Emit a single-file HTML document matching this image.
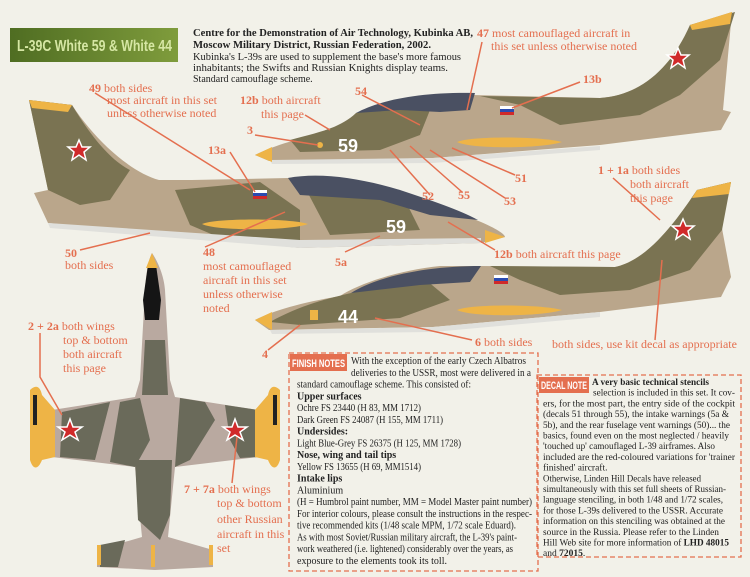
<!DOCTYPE html>
<html><head><meta charset="utf-8"><style>
body{margin:0;background:#f3f1ea}
svg{display:block}
.l{font-family:"Liberation Serif",serif;fill:#e46f4f;font-size:12px}
.lb{font-weight:bold}
.t{font-family:"Liberation Serif",serif;fill:#222;font-size:10px}
.d{font-family:"Liberation Serif",serif;fill:#222;font-size:9.5px}
.tb{font-weight:bold}
</style></head><body>
<svg width="750" height="577" viewBox="0 0 750 577" xmlns="http://www.w3.org/2000/svg">
<rect width="750" height="577" fill="#f2f1e9"/>
<defs>
<linearGradient id="g" x1="0" x2="1"><stop offset="0" stop-color="#4f6d22"/><stop offset="1" stop-color="#7f9c3c"/></linearGradient>
</defs>
<rect x="10" y="28" width="168" height="34" fill="url(#g)"/>
<text x="17" y="51" font-family="Liberation Sans,sans-serif" font-weight="bold" font-size="16" fill="#d6e7a4" textLength="155" lengthAdjust="spacingAndGlyphs">L-39C White 59 &amp; White 44</text>
<text x="193" y="36" class="t tb" textLength="280" lengthAdjust="spacingAndGlyphs">Centre for the Demonstration of Air Technology, Kubinka AB,</text>
<text x="193" y="48" class="t tb" textLength="238" lengthAdjust="spacingAndGlyphs">Moscow Military District, Russian Federation, 2002.</text>
<text x="193" y="60" class="t" textLength="268" lengthAdjust="spacingAndGlyphs">Kubinka's L-39s are used to supplement the base's more famous</text>
<text x="193" y="71" class="t" textLength="255" lengthAdjust="spacingAndGlyphs">inhabitants; the Swifts and Russian Knights display teams.</text>
<text x="193" y="82" class="t">Standard camouflage scheme.</text>

<!-- Aircraft 1 -->
<g>
<path d="M255,155 C275,145 300,138 330,132 C350,118 380,104 420,96 L473,95 L600,98 C640,95 670,70 690,25 L732,12 L723,110 L731,112 L721,130 L600,145 L433,158 L269,161 Z" fill="#baa68b"/>
<path d="M290,140 C320,132 340,128 356,113 L400,100 L430,110 L420,135 L380,150 L300,152 Z" fill="#7a7352"/>
<path d="M480,96 L600,98 C640,95 670,70 690,25 L735,12 L720,60 L680,95 L640,115 L560,125 L520,105 Z" fill="#7a7352"/>
<path d="M356,113 C380,100 420,92 475,93 L470,110 L440,112 L400,110 Z" fill="#4a5062"/>
<path d="M270,160 L433,158 L600,146 L600,150 L433,163 L272,164 Z" fill="#e0e0dc"/>
<path d="M457,142 C470,136 540,136 562,142 C540,149 470,149 457,142 Z" fill="#eeb446"/>
<path d="M255,155 L272,147 L272,162 Z" fill="#eeb446"/>
<path d="M690,25 L732,12 L730,24 L692,30 Z" fill="#eeb446"/>
<text x="338" y="152" font-family="Liberation Sans,sans-serif" font-weight="bold" font-size="18" fill="#fff">59</text>
<polygon points="678,48 681,55 689,55 683,60 685,68 678,63 671,68 673,60 667,55 675,55" fill="#d02a2a" stroke="#fff" stroke-width="1.5"/>
<rect x="500" y="106" width="14" height="3" fill="#fff"/><rect x="500" y="109" width="14" height="3" fill="#2a4ab0"/><rect x="500" y="112" width="14" height="3" fill="#d02a2a"/>
<circle cx="320" cy="145" r="3" fill="#eeb446"/>
</g>

<!-- Aircraft 2 -->
<g>
<path d="M29,100 L72,105 C95,140 130,172 159,180 L192,180 L288,178 C300,176 320,176 340,178 C380,185 440,205 481,222 C495,228 505,234 505,237 L481,243 L300,248 L48,223 L34,193 L48,190 Z" fill="#baa68b"/>
<path d="M29,100 L72,105 C90,135 110,160 130,170 L110,200 L80,205 L48,190 Z" fill="#7a7352"/>
<path d="M175,190 L260,182 L300,210 L300,240 L230,242 L190,225 Z" fill="#7a7352"/>
<path d="M300,178 L400,190 L420,230 L330,235 Z" fill="#7a7352"/>
<path d="M288,178 C320,172 360,178 400,190 C430,200 460,210 478,220 L430,215 L380,200 L300,195 Z" fill="#4a5062"/>
<path d="M48,223 L300,240 L481,238 L481,243 L300,248 L50,228 Z" fill="#e0e0dc"/>
<path d="M202,224 C215,218 290,218 308,224 C290,231 215,231 202,224 Z" fill="#eeb446"/>
<path d="M485,230 L505,237 L485,243 Z" fill="#eeb446"/>
<path d="M29,100 L72,105 L68,112 L32,108 Z" fill="#eeb446"/>
<text x="386" y="233" font-family="Liberation Sans,sans-serif" font-weight="bold" font-size="18" fill="#fff">59</text>
<polygon points="79,140 82,147 90,147 84,152 86,160 79,155 72,160 74,152 68,147 76,147" fill="#d02a2a" stroke="#fff" stroke-width="1.5"/>
<rect x="253" y="190" width="14" height="3" fill="#fff"/><rect x="253" y="193" width="14" height="3" fill="#2a4ab0"/><rect x="253" y="196" width="14" height="3" fill="#d02a2a"/>
</g>

<!-- Aircraft 3 -->
<g>
<path d="M255,320 C275,310 300,303 340,296 C360,283 400,270 440,266 L481,266 L615,267 C650,260 680,215 697,190 L731,182 L721,223 L731,277 L721,297 L600,312 L433,327 L269,330 Z" fill="#baa68b"/>
<path d="M270,322 C300,305 330,298 351,293 L420,275 L450,300 L400,318 L300,325 Z" fill="#7a7352"/>
<path d="M490,266 L615,267 C650,260 680,215 697,190 L731,182 L722,230 L690,270 L630,290 L560,295 L520,280 Z" fill="#7a7352"/>
<path d="M351,293 C380,275 430,266 481,266 L470,282 L420,285 Z" fill="#4a5062"/>
<path d="M270,330 L433,327 L600,312 L600,317 L433,332 L272,334 Z" fill="#e0e0dc"/>
<path d="M457,310 C470,304 540,304 562,310 C540,317 470,317 457,310 Z" fill="#eeb446"/>
<path d="M255,320 L272,312 L272,330 Z" fill="#eeb446"/>
<path d="M697,190 L731,182 L729,194 L692,198 Z" fill="#eeb446"/>
<rect x="310" y="310" width="8" height="10" fill="#eeb446"/>
<text x="338" y="323" font-family="Liberation Sans,sans-serif" font-weight="bold" font-size="18" fill="#fff">44</text>
<polygon points="683,219 686,226 694,226 688,231 690,239 683,234 676,239 678,231 672,226 680,226" fill="#d02a2a" stroke="#fff" stroke-width="1.5"/>
<rect x="494" y="275" width="14" height="3" fill="#fff"/><rect x="494" y="278" width="14" height="3" fill="#2a4ab0"/><rect x="494" y="281" width="14" height="3" fill="#d02a2a"/>
</g>

<!-- Top view -->
<g>
<path d="M152,253 C157,260 164,275 165,290 L170,380 L175,397 L258,410 L277,410 L277,457 L258,457 L175,467 L168,537 L213,550 L213,567 L155,570 L97,567 L97,550 L142,537 L135,467 L52,457 L33,457 L33,410 L52,410 L135,397 L140,380 L145,290 C146,275 148,260 152,253 Z" fill="#b9a9a0"/>
<path d="M145,340 L165,340 L168,395 L142,395 Z" fill="#6a6a5a"/>
<path d="M62,412 L110,402 L95,460 L60,457 Z" fill="#6a6a5a"/>
<path d="M120,402 L140,398 L150,440 L135,467 L110,462 Z" fill="#6a6a5a"/>
<path d="M180,398 L205,402 L215,420 L190,460 L175,467 Z" fill="#6a6a5a"/>
<path d="M225,405 L258,410 L258,457 L240,458 L230,440 Z" fill="#6a6a5a"/>
<path d="M135,460 L172,460 L170,515 L160,540 L138,520 Z" fill="#6a6a5a"/>
<path d="M100,545 L125,540 L118,567 L100,567 Z" fill="#6a6a5a"/>
<path d="M148,265 C150,258 154,258 156,265 L161,300 L159,320 L145,320 L143,300 Z" fill="#151515"/>
<path d="M152,253 L146,268 L158,268 Z" fill="#eeb446"/>
<path d="M30,390 C35,385 40,385 42,395 L55,410 L55,457 L42,460 C38,470 33,470 30,460 Z" fill="#eeb446"/>
<path d="M280,390 C275,385 270,385 268,395 L255,410 L255,457 L268,460 C272,470 277,470 280,460 Z" fill="#eeb446"/>
<rect x="33" y="395" width="4" height="30" fill="#222"/><rect x="273" y="395" width="4" height="30" fill="#222"/>
<rect x="97" y="545" width="4" height="20" fill="#eeb446"/><rect x="209" y="545" width="4" height="20" fill="#eeb446"/><rect x="151" y="545" width="4" height="22" fill="#eeb446"/>
<polygon points="70,419 73,427 82,427 75,432 78,440 70,435 62,440 65,432 58,427 67,427" fill="#d02a2a" stroke="#fff" stroke-width="1.5"/>
<polygon points="235,419 238,427 247,427 240,432 243,440 235,435 227,440 230,432 223,427 232,427" fill="#d02a2a" stroke="#fff" stroke-width="1.5"/>
</g>

<g stroke="#e46f4f" stroke-width="1.5" fill="none">
<line x1="95" y1="93" x2="250" y2="190"/>
<line x1="305" y1="115" x2="330" y2="130"/>
<line x1="255" y1="135" x2="318" y2="145"/>
<line x1="362" y1="95" x2="420" y2="125"/>
<line x1="482" y1="42" x2="467" y2="110"/>
<line x1="580" y1="82" x2="512" y2="108"/>
<line x1="230" y1="152" x2="255" y2="192"/>
<line x1="430" y1="195" x2="390" y2="150"/>
<line x1="462" y1="192" x2="410" y2="146"/>
<line x1="505" y1="198" x2="430" y2="150"/>
<line x1="515" y1="175" x2="452" y2="148"/>
<line x1="613" y1="178" x2="660" y2="220"/>
<line x1="80" y1="250" x2="150" y2="233"/>
<line x1="205" y1="247" x2="285" y2="212"/>
<line x1="345" y1="252" x2="380" y2="236"/>
<line x1="495" y1="250" x2="448" y2="222"/>
<line x1="268" y1="350" x2="300" y2="325"/>
<line x1="472" y1="340" x2="375" y2="318"/>
<line x1="655" y1="340" x2="662" y2="260"/>
<polyline points="40,333 40,377 62,415"/>
<line x1="232" y1="483" x2="237" y2="437"/>
</g>

<text x="89" y="92" class="l"><tspan class="lb">49</tspan> both sides</text>
<text x="107" y="104" class="l">most aircraft in this set</text>
<text x="107" y="117" class="l">unless otherwise noted</text>
<text x="240" y="104" class="l"><tspan class="lb">12b</tspan> both aircraft</text>
<text x="261" y="118" class="l">this page</text>
<text x="247" y="134" class="l lb">3</text>
<text x="355" y="95" class="l lb">54</text>
<text x="208" y="154" class="l lb">13a</text>
<text x="477" y="37" class="l"><tspan class="lb">47</tspan> most camouflaged aircraft in</text>
<text x="491" y="50" class="l">this set unless otherwise noted</text>
<text x="583" y="83" class="l lb">13b</text>
<text x="422" y="200" class="l lb">52</text>
<text x="458" y="199" class="l lb">55</text>
<text x="504" y="205" class="l lb">53</text>
<text x="515" y="182" class="l lb">51</text>
<text x="598" y="174" class="l"><tspan class="lb">1 + 1a</tspan> both sides</text>
<text x="630" y="188" class="l">both aircraft</text>
<text x="630" y="202" class="l">this page</text>
<text x="65" y="257" class="l lb">50</text>
<text x="65" y="269" class="l">both sides</text>
<text x="203" y="256" class="l lb">48</text>
<text x="203" y="270" class="l">most camouflaged</text>
<text x="203" y="284" class="l">aircraft in this set</text>
<text x="203" y="298" class="l">unless otherwise</text>
<text x="203" y="312" class="l">noted</text>
<text x="335" y="266" class="l lb">5a</text>
<text x="494" y="258" class="l"><tspan class="lb">12b</tspan> both aircraft this page</text>
<text x="262" y="358" class="l lb">4</text>
<text x="475" y="346" class="l"><tspan class="lb">6</tspan>  both sides</text>
<text x="552" y="348" class="l">both sides, use kit decal as appropriate</text>
<text x="28" y="330" class="l"><tspan class="lb">2 + 2a</tspan> both wings</text>
<text x="63" y="344" class="l">top &amp; bottom</text>
<text x="63" y="358" class="l">both aircraft</text>
<text x="63" y="372" class="l">this page</text>
<text x="184" y="493" class="l"><tspan class="lb">7 + 7a</tspan> both wings</text>
<text x="217" y="507" class="l">top &amp; bottom</text>
<text x="217" y="523" class="l">other Russian</text>
<text x="217" y="538" class="l">aircraft in this</text>
<text x="217" y="552" class="l">set</text>

<!-- finish notes -->
<rect x="289" y="353" width="249" height="218" fill="none" stroke="#e46f4f" stroke-width="1.3" stroke-dasharray="5,3"/>
<rect x="290" y="354" width="57" height="17" fill="#e46f4f"/>
<text x="292" y="367" font-family="Liberation Sans,sans-serif" font-weight="bold" font-size="11" fill="#fff" textLength="53" lengthAdjust="spacingAndGlyphs">FINISH NOTES</text>
<text x="351" y="364" class="t" textLength="175" lengthAdjust="spacingAndGlyphs">With the exception of the early Czech Albatros</text>
<text x="351" y="375.75" class="t" textLength="180" lengthAdjust="spacingAndGlyphs">deliveries to the USSR, most were delivered in a</text>
<text x="297" y="387.5" class="t" textLength="174" lengthAdjust="spacingAndGlyphs">standard camouflage scheme. This consisted of:</text>
<text x="297" y="399.25" class="t tb">Upper surfaces</text>
<text x="297" y="411" class="t" textLength="124" lengthAdjust="spacingAndGlyphs">Ochre FS 23440 (H 83, MM 1712)</text>
<text x="297" y="422.75" class="t" textLength="146" lengthAdjust="spacingAndGlyphs">Dark Green FS 24087 (H 155, MM 1711)</text>
<text x="297" y="434.5" class="t tb">Undersides:</text>
<text x="297" y="446.25" class="t" textLength="164" lengthAdjust="spacingAndGlyphs">Light Blue-Grey FS 26375 (H 125, MM 1728)</text>
<text x="297" y="458" class="t tb">Nose, wing and tail tips</text>
<text x="297" y="469.75" class="t" textLength="124" lengthAdjust="spacingAndGlyphs">Yellow FS 13655 (H 69, MM1514)</text>
<text x="297" y="481.5" class="t tb">Intake lips</text>
<text x="297" y="493.25" class="t">Aluminium</text>
<text x="297" y="505" class="t" textLength="235" lengthAdjust="spacingAndGlyphs">(H = Humbrol paint number, MM = Model Master paint number)</text>
<text x="297" y="516.75" class="t" textLength="235" lengthAdjust="spacingAndGlyphs">For interior colours, please consult the instructions in the respec-</text>
<text x="297" y="528.5" class="t" textLength="219" lengthAdjust="spacingAndGlyphs">tive recommended kits (1/48 scale MPM, 1/72 scale Eduard).</text>
<text x="297" y="540.25" class="t" textLength="220" lengthAdjust="spacingAndGlyphs">As with most Soviet/Russian military aircraft, the L-39's paint-</text>
<text x="297" y="552" class="t" textLength="216" lengthAdjust="spacingAndGlyphs">work weathered (i.e. lightened) considerably over the years, as</text>
<text x="297" y="563.75" class="t" textLength="150" lengthAdjust="spacingAndGlyphs">exposure to the elements took its toll.</text>

<!-- decal note -->
<rect x="537" y="375" width="204" height="182" fill="none" stroke="#e46f4f" stroke-width="1.3" stroke-dasharray="5,3"/>
<rect x="539" y="377" width="50" height="16" fill="#e46f4f"/>
<text x="541" y="389" font-family="Liberation Sans,sans-serif" font-weight="bold" font-size="11" fill="#fff" textLength="46" lengthAdjust="spacingAndGlyphs">DECAL NOTE</text>
<text x="592" y="385" class="d tb" textLength="117" lengthAdjust="spacingAndGlyphs">A very basic technical stencils</text>
<text x="593" y="395.7" class="d" textLength="142" lengthAdjust="spacingAndGlyphs">selection is included in this set. It cov-</text>
<text x="543" y="406.4" class="d" textLength="192" lengthAdjust="spacingAndGlyphs">ers, for the most part, the entry side of the cockpit</text>
<text x="543" y="417.1" class="d" textLength="186" lengthAdjust="spacingAndGlyphs">(decals 51 through 55), the intake warnings (5a &amp;</text>
<text x="543" y="427.8" class="d" textLength="187" lengthAdjust="spacingAndGlyphs">5b), and the rear fuselage vent warnings (50)... the</text>
<text x="543" y="438.5" class="d" textLength="186" lengthAdjust="spacingAndGlyphs">basics, found even on the most neglected / heavily</text>
<text x="543" y="449.2" class="d" textLength="172" lengthAdjust="spacingAndGlyphs">'touched up' camouflaged L-39 airframes. Also</text>
<text x="543" y="459.9" class="d" textLength="192" lengthAdjust="spacingAndGlyphs">included are the red-coloured variations for 'trainer</text>
<text x="543" y="470.6" class="d">finished' aircraft.</text>
<text x="543" y="481.3" class="d" textLength="158" lengthAdjust="spacingAndGlyphs">Otherwise, Linden Hill Decals have released</text>
<text x="543" y="492" class="d" textLength="183" lengthAdjust="spacingAndGlyphs">simultaneously with this set full sheets of Russian-</text>
<text x="543" y="502.7" class="d" textLength="180" lengthAdjust="spacingAndGlyphs">language stenciling, in both 1/48 and 1/72 scales,</text>
<text x="543" y="513.4" class="d" textLength="180" lengthAdjust="spacingAndGlyphs">for those L-39s delivered to the USSR. Accurate</text>
<text x="543" y="524.1" class="d" textLength="182" lengthAdjust="spacingAndGlyphs">information on this stenciling was obtained at the</text>
<text x="543" y="534.8" class="d" textLength="176" lengthAdjust="spacingAndGlyphs">source in the Russia. Please refer to the Linden</text>
<text x="543" y="545.5" class="d" textLength="186" lengthAdjust="spacingAndGlyphs">Hill Web site for more information of <tspan class="tb">LHD 48015</tspan></text>
<text x="543" y="556" class="d">and <tspan class="tb">72015</tspan>.</text>
</svg>
</body></html>
